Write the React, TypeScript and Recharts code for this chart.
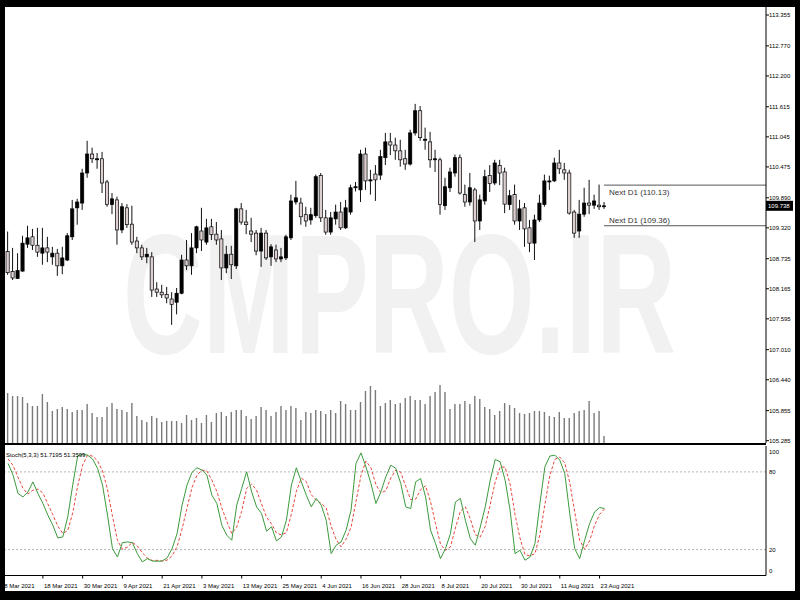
import { ComposedChart, Bar, Line, XAxis, YAxis, ReferenceLine } from 'recharts';

// daily candles, 9 Mar 2021 .. 24 Aug 2021
const opens = [
  108.87, 108.49, 108.36, 108.50, 109.01, 109.15, 108.99, 108.84, 108.94, 108.77,
  108.84, 108.60, 108.71, 109.15, 109.70, 109.79, 110.36, 110.72, 110.61, 110.63,
  110.19, 109.76, 109.85, 109.28, 109.70, 109.39, 109.07, 108.94, 108.77, 108.77,
  108.16, 108.10, 108.06, 107.97, 107.91, 108.08, 108.71, 108.60, 108.94, 109.26,
  109.05, 109.34, 109.20, 109.11, 108.56, 108.82, 108.60, 109.68, 109.43, 109.26,
  109.22, 108.88, 109.22, 108.77, 108.90, 108.73, 108.75, 109.13, 109.81, 109.79,
  109.57, 109.47, 109.55, 110.31, 109.51, 109.24, 109.49, 109.62, 109.32, 109.62,
  110.08, 110.04, 110.72, 110.21, 110.34, 110.32, 110.65, 110.95, 110.89, 110.78,
  110.63, 110.53, 111.12, 111.54, 110.98, 110.95, 110.61, 110.61, 109.74, 110.08,
  110.36, 110.65, 109.95, 109.81, 110.04, 109.45, 109.83, 110.31, 110.17, 110.50,
  110.38, 109.76, 109.95, 109.45, 109.70, 109.32, 109.03, 109.47, 109.76, 110.19,
  110.21, 110.55, 110.42, 110.36, 109.62, 109.26, 109.58, 109.79, 109.75, 109.75,
  109.72,
];
const highs = [
  109.25, 108.94, 108.84, 109.17, 109.36, 109.30, 109.32, 109.32, 109.15, 108.96,
  108.92, 108.96, 109.22, 109.85, 109.87, 110.44, 110.97, 110.84, 110.74, 110.76,
  110.23, 109.98, 109.91, 109.79, 109.77, 109.74, 109.15, 109.00, 108.94, 108.86,
  108.29, 108.24, 108.20, 108.10, 108.18, 108.81, 109.09, 109.22, 109.36, 109.70,
  109.49, 109.49, 109.43, 109.28, 108.98, 108.98, 109.70, 109.79, 109.66, 109.51,
  109.28, 109.32, 109.28, 109.01, 109.00, 108.94, 109.19, 109.95, 110.21, 109.89,
  109.72, 109.70, 110.33, 110.36, 109.66, 109.62, 109.76, 109.81, 109.85, 110.14,
  110.19, 110.80, 110.84, 110.42, 110.51, 110.80, 111.12, 111.12, 111.03, 110.99,
  110.80, 111.18, 111.67, 111.63, 111.22, 111.14, 110.80, 110.65, 110.27, 110.46,
  110.71, 110.71, 110.14, 110.36, 110.08, 109.95, 110.42, 110.51, 110.61, 110.61,
  110.46, 110.04, 110.14, 109.85, 109.79, 109.47, 109.57, 109.95, 110.33, 110.31,
  110.65, 110.80, 110.55, 110.42, 109.66, 109.85, 110.08, 110.23, 109.95, 110.14,
  109.81,
];
const lows = [
  108.43, 108.33, 108.35, 108.49, 108.94, 108.90, 108.77, 108.62, 108.67, 108.62,
  108.41, 108.44, 108.69, 109.09, 109.38, 109.66, 110.27, 110.55, 110.44, 109.98,
  109.72, 109.58, 109.00, 109.22, 109.32, 109.00, 108.84, 108.71, 108.65, 108.01,
  108.01, 107.99, 107.89, 107.48, 107.68, 108.06, 108.52, 108.43, 108.84, 108.88,
  109.00, 109.09, 109.00, 108.33, 108.46, 108.35, 108.54, 109.38, 109.20, 109.05,
  108.80, 108.58, 108.71, 108.60, 108.67, 108.67, 108.71, 109.09, 109.76, 109.38,
  109.34, 109.38, 109.51, 109.43, 109.19, 109.19, 109.38, 109.28, 109.30, 109.57,
  110.01, 109.81, 110.04, 109.95, 109.83, 110.23, 110.51, 110.70, 110.61, 110.48,
  110.42, 110.50, 111.07, 110.97, 110.80, 110.46, 110.38, 109.57, 109.66, 110.00,
  110.29, 109.95, 109.72, 109.74, 109.05, 109.28, 109.76, 110.00, 110.13, 110.13,
  109.60, 109.66, 109.38, 109.28, 108.96, 108.86, 108.71, 109.43, 109.72, 110.04,
  110.19, 110.34, 110.23, 109.57, 109.13, 109.13, 109.53, 109.58, 109.68, 109.66,
  109.68,
];
const closes = [
  108.47, 108.37, 108.51, 109.03, 109.13, 108.99, 108.86, 108.94, 108.86, 108.84,
  108.60, 108.75, 109.17, 109.68, 109.81, 110.36, 110.72, 110.63, 110.63, 110.17,
  109.76, 109.87, 109.28, 109.72, 109.38, 109.05, 108.94, 108.77, 108.82, 108.14,
  108.10, 108.05, 107.99, 107.87, 108.08, 108.71, 108.60, 108.94, 109.34, 109.09,
  109.32, 109.19, 109.09, 108.56, 108.82, 108.62, 109.68, 109.43, 109.38, 109.20,
  108.88, 109.22, 108.75, 108.96, 108.73, 108.77, 109.15, 109.83, 109.89, 109.53,
  109.45, 109.57, 110.29, 109.51, 109.24, 109.51, 109.62, 109.32, 109.70, 110.08,
  110.10, 110.72, 110.21, 110.23, 110.23, 110.67, 110.95, 110.89, 110.78, 110.61,
  110.53, 111.12, 111.54, 111.03, 111.00, 110.61, 110.63, 109.76, 110.10, 110.38,
  110.65, 109.98, 109.81, 110.08, 109.45, 109.85, 110.29, 110.16, 110.55, 110.36,
  109.77, 109.93, 109.45, 109.68, 109.30, 109.03, 109.47, 109.79, 110.21, 110.21,
  110.55, 110.44, 110.36, 109.60, 109.22, 109.58, 109.79, 109.75, 109.83, 109.72,
  109.738,
];
// tick volume, thousands
const volumes = [
  50, 47, 47, 46, 40, 37, 37, 49, 41, 32,
  34, 36, 34, 31, 33, 33, 39, 30, 26, 26,
  36, 40, 34, 33, 31, 40, 27, 23, 21, 27,
  25, 21, 22, 22, 22, 20, 28, 23, 25, 20,
  28, 21, 30, 31, 27, 31, 33, 33, 27, 24,
  27, 36, 33, 27, 31, 37, 33, 37, 35, 23,
  31, 30, 33, 32, 29, 33, 30, 42, 39, 33,
  33, 41, 52, 57, 53, 37, 40, 43, 39, 40,
  45, 47, 43, 43, 39, 47, 51, 58, 51, 34,
  39, 39, 42, 39, 47, 44, 36, 34, 28, 32,
  40, 38, 35, 30, 29, 30, 32, 32, 31, 27,
  26, 31, 25, 25, 30, 32, 33, 42, 30, 32,
  7,
];
// Stochastic(5,3,3): main (%K) and signal (%D)
const stochK = [
  86.5, 77.5, 63.3, 60.7, 64.6, 72.3, 63.3, 55.6, 46.6, 38.8,
  29.0, 29.8, 45.3, 69.8, 92.4, 93.7, 92.9, 89.9, 82.7, 69.8,
  46.6, 20.8, 14.3, 25.4, 25.9, 25.4, 16.9, 10.5, 13.0, 11.2,
  11.0, 11.2, 13.6, 20.8, 32.4, 54.3, 69.8, 79.6, 83.2, 81.4,
  77.5, 62.0, 55.6, 38.8, 31.1, 27.2, 54.3, 67.2, 80.1, 64.6,
  53.0, 47.9, 34.2, 37.6, 26.7, 29.8, 42.7, 69.8, 83.2, 72.3,
  62.0, 53.0, 59.5, 54.3, 42.7, 16.9, 23.4, 25.9, 35.0, 50.4,
  86.5, 94.7, 83.9, 71.1, 55.6, 64.6, 76.2, 85.2, 82.7, 71.1,
  53.0, 51.7, 72.3, 74.9, 60.7, 35.0, 24.7, 13.0, 20.8, 32.4,
  56.8, 59.5, 42.7, 28.5, 23.4, 37.5, 53.0, 73.6, 89.6, 87.8,
  73.6, 50.4, 16.9, 19.5, 11.8, 14.3, 24.7, 55.6, 83.9, 92.2,
  93.0, 89.1, 78.8, 47.9, 20.8, 13.0, 27.2, 40.1, 49.1, 52.5,
  51.7195,
];
const stochD = [
  90.0, 85.0, 75.8, 67.2, 62.9, 65.9, 66.7, 63.7, 55.2, 47.0,
  38.1, 32.5, 34.7, 48.3, 69.2, 85.3, 93.0, 92.2, 88.5, 80.8,
  66.4, 45.7, 27.2, 20.2, 21.9, 25.6, 22.7, 17.6, 13.5, 11.6,
  11.7, 11.1, 11.9, 15.2, 22.3, 35.8, 52.2, 67.9, 77.5, 81.4,
  80.7, 73.6, 65.0, 52.1, 41.8, 32.4, 37.5, 49.6, 67.2, 70.6,
  65.9, 55.2, 45.0, 39.9, 32.8, 31.4, 33.1, 47.4, 65.2, 75.1,
  72.5, 62.4, 58.2, 55.6, 52.2, 38.0, 27.7, 22.1, 28.1, 37.1,
  57.3, 77.2, 88.4, 83.2, 70.2, 63.8, 65.5, 75.3, 81.4, 79.7,
  68.9, 58.6, 59.0, 66.3, 69.3, 56.9, 40.1, 24.2, 19.5, 22.1,
  36.7, 49.6, 53.0, 43.6, 31.5, 29.8, 38.0, 54.7, 72.1, 83.7,
  83.7, 70.6, 47.0, 28.9, 16.1, 15.2, 16.9, 31.5, 54.7, 77.2,
  89.7, 91.4, 87.0, 71.9, 49.2, 27.2, 20.3, 26.8, 38.8, 47.2,
  51.3599,
];

const dateTickIdx = [-1, 7, 15, 23, 31, 39, 47, 55, 63, 71, 79, 87, 95, 103, 111, 119];
const dateTickLabels = [
  '8 Mar 2021', '18 Mar 2021', '30 Mar 2021', '9 Apr 2021', '21 Apr 2021', '3 May 2021',
  '13 May 2021', '25 May 2021', '4 Jun 2021', '16 Jun 2021', '28 Jun 2021', '8 Jul 2021',
  '20 Jul 2021', '30 Jul 2021', '11 Aug 2021', '23 Aug 2021',
];
const priceTicks = [
  105.285, 105.855, 106.44, 107.01, 107.595, 108.165, 108.735, 109.32,
  109.89, 110.475, 111.045, 111.615, 112.2, 112.77, 113.355,
];
const stochTicks = [0, 20, 80, 100];
const nextD1High = 110.13;
const nextD1Low = 109.36;
const bidPrice = 109.738;

const rows = opens.map((o, i) => ({
  idx: i,
  open: o,
  high: highs[i],
  low: lows[i],
  close: closes[i],
  range: [lows[i], highs[i]],
  vol: volumes[i],
  k: stochK[i],
  d: stochD[i],
}));

const X_DOMAIN: [number, number] = [-1.63, 152.49];
const FONT = '"Liberation Sans", Arial, sans-serif';

const Candle = (props: any) => {
  const { x, y, width, height, payload } = props;
  const top = Math.min(y, y + height);
  const h = Math.abs(height);
  const ppu = h / (payload.high - payload.low);
  const cx = x + width / 2;
  const yOf = (p: number) => top + (payload.high - p) * ppu;
  const bodyTop = yOf(Math.max(payload.open, payload.close));
  const bodyBot = yOf(Math.min(payload.open, payload.close));
  const up = payload.close >= payload.open;
  return (
    <g>
      <line x1={cx} x2={cx} y1={top} y2={top + h} stroke="#111" strokeWidth={1} />
      <rect
        x={cx - 1.6}
        y={bodyTop}
        width={3.2}
        height={Math.max(bodyBot - bodyTop, 0.8)}
        fill={up ? '#000' : '#ddd0d0'}
        stroke="#000"
        strokeWidth={0.7}
      />
    </g>
  );
};

const VolumeBar = (props: any) => {
  const { x, y, width, height } = props;
  return <rect x={x + width / 2 - 0.7} y={y} width={1.4} height={height} fill="#7a7a7a" />;
};

const PriceTick = (props: any) => {
  const { x, y, payload } = props;
  return (
    <text x={x} y={y + 2} fontSize={6} fontFamily={FONT} fill="#000" textAnchor="start">
      {Number(payload.value).toFixed(3)}
    </text>
  );
};

const StochTick = (props: any) => {
  const { x, y, payload } = props;
  const v = payload.value;
  const shift = v === 100 ? 6 : v === 0 ? -5 : 0;
  return (
    <text x={x} y={y + 2 + shift} fontSize={6} fontFamily={FONT} fill="#000" textAnchor="start">
      {v}
    </text>
  );
};

const DateTick = (props: any) => {
  const { x, y, payload } = props;
  const label = dateTickLabels[dateTickIdx.indexOf(payload.value)];
  return (
    <text x={x + 1} y={y + 7} fontSize={6} fontFamily={FONT} fill="#000" textAnchor="start">
      {label}
    </text>
  );
};

const nextLabel = (text: string, dy: number) => (props: any) => {
  const vb = props.viewBox;
  return (
    <text x={vb.x + 5} y={vb.y + dy} fontSize={8} fontFamily={FONT} fill="#333">
      {text}
    </text>
  );
};

const bidLabel = (props: any) => {
  const vb = props.viewBox;
  const right = vb.x + vb.width;
  return (
    <g>
      <rect x={right} y={vb.y - 5} width={27} height={10} fill="#000" />
      <text x={right + 2} y={vb.y + 2} fontSize={6} fontFamily={FONT} fill="#fff">
        {bidPrice.toFixed(3)}
      </text>
    </g>
  );
};

const App = () => {
  return (
    <div style={{ position: 'fixed', left: 0, top: 0, width: 800, height: 600, background: '#fff', overflow: 'hidden' }}>
      {/* watermark */}
      <svg width={800} height={600} style={{ position: 'absolute', left: 0, top: 0 }}>
        <text
          x={123}
          y={353}
          fontSize={170}
          fontFamily={FONT}
          fontWeight={700}
          fill="#f1f1f1"
          textLength={553}
          lengthAdjust="spacingAndGlyphs"
        >
          CMPRO.IR
        </text>
      </svg>

      {/* main window: candles + volumes */}
      <div style={{ position: 'absolute', left: 0, top: 0 }}>
        <ComposedChart width={800} height={445} data={rows} margin={{ top: 7, right: 0, bottom: 2, left: 0 }}>
          <XAxis xAxisId="c" dataKey="idx" type="number" domain={X_DOMAIN} allowDataOverflow hide />
          <XAxis xAxisId="v" dataKey="idx" type="number" domain={X_DOMAIN} allowDataOverflow hide />
          <YAxis yAxisId="vol" domain={[0, 436]} allowDataOverflow hide />
          <YAxis
            yAxisId="price"
            orientation="right"
            width={34}
            domain={[105.241, 113.507]}
            allowDataOverflow
            ticks={priceTicks}
            interval={0}
            tickSize={3}
            tickMargin={0}
            tick={<PriceTick />}
            axisLine={{ stroke: '#000' }}
            tickLine={{ stroke: '#000' }}
          />
          <Bar xAxisId="v" yAxisId="vol" dataKey="vol" barSize={2} shape={<VolumeBar />} isAnimationActive={false} />
          <Bar xAxisId="c" yAxisId="price" dataKey="range" barSize={4} shape={<Candle />} isAnimationActive={false} />
          <ReferenceLine
            xAxisId="c"
            yAxisId="price"
            segment={[{ x: 119.9, y: nextD1High }, { x: X_DOMAIN[1], y: nextD1High }]}
            stroke="#555"
            label={nextLabel(`Next D1 (${nextD1High.toFixed(2)})`, 10)}
          />
          <ReferenceLine
            xAxisId="c"
            yAxisId="price"
            segment={[{ x: 119.9, y: nextD1Low }, { x: X_DOMAIN[1], y: nextD1Low }]}
            stroke="#555"
            label={nextLabel(`Next D1 (${nextD1Low.toFixed(2)})`, -3)}
          />
          <ReferenceLine xAxisId="c" yAxisId="price" y={bidPrice} stroke="none" label={bidLabel} />
        </ComposedChart>
      </div>

      {/* separator between windows */}
      <div style={{ position: 'absolute', left: 0, top: 443, width: 766, height: 2, background: '#000' }} />

      {/* stochastic window */}
      <div style={{ position: 'absolute', left: 0, top: 0 }}>
        <ComposedChart width={800} height={600} data={rows} margin={{ top: 446, right: 0, bottom: 8.5, left: 0 }}>
          <XAxis
            dataKey="idx"
            type="number"
            domain={X_DOMAIN}
            allowDataOverflow
            ticks={dateTickIdx}
            interval={0}
            height={16}
            tickSize={3}
            tickMargin={2}
            tick={<DateTick />}
            axisLine={{ stroke: '#000' }}
            tickLine={{ stroke: '#000' }}
          />
          <YAxis
            orientation="right"
            width={34}
            domain={[0, 100]}
            ticks={stochTicks}
            interval={0}
            tickSize={3}
            tickMargin={0}
            tick={<StochTick />}
            axisLine={{ stroke: '#000' }}
            tickLine={false}
          />
          <ReferenceLine y={80} stroke="#b4b4b4" strokeDasharray="2 2" />
          <ReferenceLine y={20} stroke="#b4b4b4" strokeDasharray="2 2" />
          <Line dataKey="d" type="linear" stroke="#e8473d" strokeWidth={1} strokeDasharray="3 2" dot={false} isAnimationActive={false} />
          <Line dataKey="k" type="linear" stroke="#3c9a3c" strokeWidth={1} dot={false} isAnimationActive={false} />
        </ComposedChart>
      </div>

      <svg width={800} height={600} style={{ position: 'absolute', left: 0, top: 0, pointerEvents: 'none' }}>
        <text x={6} y={456.5} fontSize={6} fontFamily={FONT} fill="#000">
          Stoch(5,3,3) 51.7195 51.3599
        </text>
      </svg>

      {/* terminal frame */}
      <div
        style={{
          position: 'absolute',
          left: 0,
          top: 0,
          width: 800,
          height: 600,
          boxSizing: 'border-box',
          borderTop: '7px solid #000',
          borderLeft: '5px solid #000',
          borderRight: '5px solid #000',
          borderBottom: '9px solid #000',
          pointerEvents: 'none',
        }}
      />
    </div>
  );
};

export default App;
